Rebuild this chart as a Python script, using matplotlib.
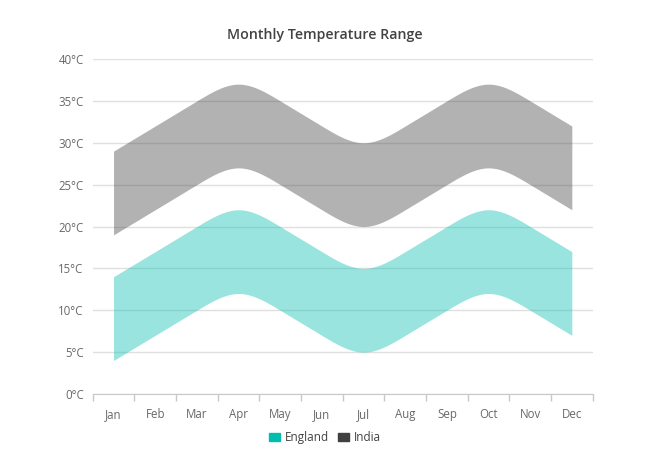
import numpy as np
import matplotlib
matplotlib.use("Agg")
import matplotlib.pyplot as plt
from matplotlib.patches import Patch

plt.rcParams['font.family'] = ['Open Sans', 'DejaVu Sans']

months = ["Jan", "Feb", "Mar", "Apr", "May", "Jun",
          "Jul", "Aug", "Sep", "Oct", "Nov", "Dec"]
england_low = [4, 7, 10, 12, 10, 7, 5, 7, 10, 12, 10, 7]
england_high = [14, 17, 20, 22, 20, 17, 15, 17, 20, 22, 20, 17]
india_low = [19, 22, 25, 27, 25, 22, 20, 22, 25, 27, 25, 22]
india_high = [29, 32, 35, 37, 35, 32, 30, 32, 35, 37, 35, 32]
y_ticks = [0, 5, 10, 15, 20, 25, 30, 35, 40]


def natural_spline(x, y, n=400):
    # natural cubic spline, drawn the way the source chart smooths the series
    x = np.asarray(x, float)
    y = np.asarray(y, float)
    k = len(x)
    h = np.diff(x)
    A = np.zeros((k, k))
    b = np.zeros(k)
    A[0, 0] = A[-1, -1] = 1
    for i in range(1, k - 1):
        A[i, i - 1] = h[i - 1]
        A[i, i] = 2 * (h[i - 1] + h[i])
        A[i, i + 1] = h[i]
        b[i] = 6 * ((y[i + 1] - y[i]) / h[i] - (y[i] - y[i - 1]) / h[i - 1])
    m = np.linalg.solve(A, b)
    xs = np.linspace(x[0], x[-1], n)
    idx = np.clip(np.searchsorted(x, xs) - 1, 0, k - 2)
    x0, x1 = x[idx], x[idx + 1]
    hh = x1 - x0
    t1 = x1 - xs
    t0 = xs - x0
    ys = (m[idx] * t1**3 + m[idx + 1] * t0**3) / (6 * hh) \
        + (y[idx] / hh - m[idx] * hh / 6) * t1 \
        + (y[idx + 1] / hh - m[idx + 1] * hh / 6) * t0
    return xs, ys


fig = plt.figure(figsize=(6.5, 4.74), dpi=100)
ax = fig.add_axes([0.1426, 0.1688, 0.7692, 0.7067])

x = np.arange(len(months))
series = [
    ("England", england_low, england_high, "#00BDAE"),
    ("India", india_low, india_high, "#404041"),
]
for name, low, high, color in series:
    xs, lo = natural_spline(x, low)
    _, hi = natural_spline(x, high)
    ax.fill_between(xs, lo, hi, color=color, alpha=0.4, linewidth=0, zorder=2)

ax.set_xlim(-0.5, len(months) - 0.5)
ax.set_ylim(0, 40)

ax.set_yticks(y_ticks)
ax.set_yticklabels([f"{v}°C" for v in y_ticks])
ax.tick_params(axis="y", length=0, pad=6.5, labelsize=8.3, labelcolor="#686868")
ax.grid(axis="y", color="#e0e0e0", linewidth=1, zorder=0)
ax.set_axisbelow(True)

ax.set_xticks(x)
ax.set_xticklabels(months)
ax.set_xticks(np.arange(-0.5, len(months)), minor=True)
ax.tick_params(axis="x", which="major", length=0, pad=10, labelsize=8.3,
               labelcolor="#686868")
ax.tick_params(axis="x", which="minor", length=5, color="#c8c8c8", width=1)

for side in ["top", "right", "left"]:
    ax.spines[side].set_visible(False)
ax.spines["bottom"].set_color("#c8c8c8")

fig.text(0.5, 0.926, "Monthly Temperature Range", ha="center", va="center",
         fontsize=10.2, fontweight="semibold", color="#424242")

handles = [Patch(color=c, label=n) for n, _, _, c in series]
fig.legend(handles=handles, loc="center", bbox_to_anchor=(0.5, 0.076),
           ncol=2, frameon=False, fontsize=8.5, handlelength=0.9,
           handleheight=0.7, handletextpad=0.4, columnspacing=0.8,
           labelcolor="#424242")

fig.savefig("out.png", dpi=100)
